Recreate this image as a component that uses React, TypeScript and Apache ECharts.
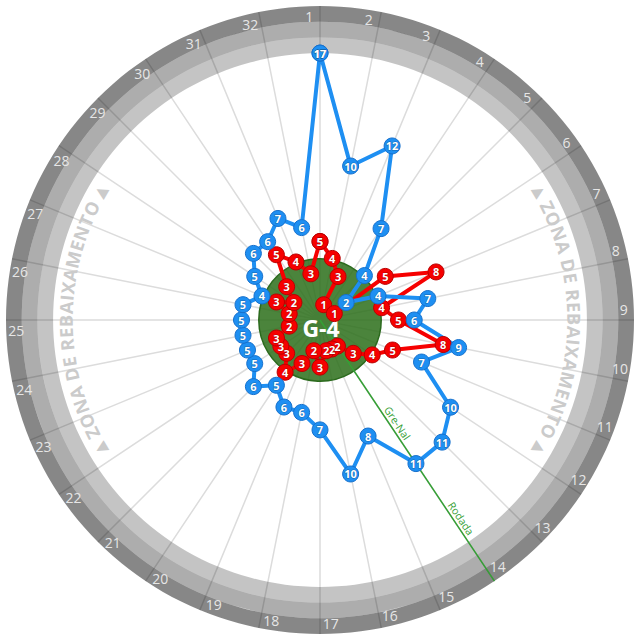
import React, { useEffect, useRef } from 'react';
import * as echarts from 'echarts';

// ---- data ----
const roundLabels = ['1', '2', '3', '4', '5', '6', '7', '8', '9', '10', '11', '12', '13', '14', '15', '16',
  '17', '18', '19', '20', '21', '22', '23', '24', '25', '26', '27', '28', '29', '30', '31', '32'];
const gremioPositions = [17, 10, 12, 7, 4, 2, 4, 7, 6, 9, 7, 10, 11, 11, 8, 10,
  7, 6, 6, 5, 6, 5, 5, 5, 5, 5, 4, 5, 6, 6, 7, 6];
const interPositions = [5, 4, 3, 1, 1, 5, 8, 4, 5, 8, 5, 4, 3, 2, 2, 2,
  3, 2, 3, 4, 3, 3, 3, 2, 2, 3, 2, 3, 5, 4, 3];
// round (angle) at which each red point is drawn
// (the two leader points are drawn spread apart; round 25 has no point)
const interRounds = [1, 2, 3, 2.2, 6.85, 6, 7, 8, 9, 10, 11, 12, 13, 14, 15, 16,
  17, 18, 19, 20, 21, 22, 23, 24, 26, 27, 28, 29, 30, 31, 32];
const zoneBands = [[17, 18], [18, 19], [19, 20]];
const g4Band = [[0, 3.9]];
const g4Text = 'G-4';
const greNalRound = 14;
const greNalLabels = ['Gre-Nal', 'Rodada'];
const zoneText = '▲ ZONA DE REBAIXAMENTO ▲';
const zoneCenters = [9, 25]; // rounds at the middle of each side text

// ---- styles ----
const BLUE = '#1e8ff2';
const RED = '#f60000';
const zoneColors = ['rgba(0,0,0,0.23)', 'rgba(0,0,0,0.32)', 'rgba(0,0,0,0.47)'];
const FONT = '"Open Sans", "DejaVu Sans", sans-serif';
const N = roundLabels.length;

let measureCtx: CanvasRenderingContext2D | null = null;
function textWidth(t: string, font: string) {
  if (!measureCtx) measureCtx = document.createElement('canvas').getContext('2d');
  measureCtx!.font = font;
  return measureCtx!.measureText(t).width;
}

function dist(a: number[], b: number[]) {
  return Math.hypot(a[0] - b[0], a[1] - b[1]);
}

export default function App() {
  const ref = useRef<HTMLDivElement>(null);
  useEffect(() => {
    if (!ref.current) return;
    const chart = echarts.init(ref.current, null, { renderer: 'svg' });

    const gremioData: number[][] = gremioPositions.map((v, i) => [v, i]);
    gremioData.push([gremioPositions[0], N]);
    const interData: number[][] = interPositions.map((v, i) => [v, interRounds[i] - 1]);
    interData.push([interPositions[0], N]);

    const markerLabel = {
      show: true,
      position: 'inside',
      formatter: (p: any) => String(p.value[0]),
      color: '#fff',
      fontWeight: 'bold',
      fontSize: 11,
      fontFamily: FONT,
      textBorderColor: 'rgba(0,0,0,0.3)',
      textBorderWidth: 1,
    };

    const option: any = {
      animation: false,
      polar: { center: ['50%', '50%'], radius: 314 },
      radiusAxis: {
        type: 'value', min: 0, max: 20,
        axisLine: { show: false }, axisTick: { show: false }, axisLabel: { show: false },
        splitLine: { show: false },
      },
      angleAxis: {
        type: 'value', min: 0, max: N, interval: 1, startAngle: 90, clockwise: true,
        axisLine: { show: false }, axisTick: { show: false }, axisLabel: { show: false },
        splitLine: { show: true, lineStyle: { color: '#dcdcdc', width: 1.5 } },
      },
      series: [
        {
          type: 'custom', coordinateSystem: 'polar', silent: true, z: 1,
          data: zoneBands,
          renderItem: (params: any, api: any) => {
            const c = api.coord([0, 0]);
            const r0 = dist(api.coord([api.value(0), 0]), c);
            const r = dist(api.coord([api.value(1), 0]), c);
            return { type: 'ring', shape: { cx: c[0], cy: c[1], r, r0 }, style: { fill: zoneColors[params.dataIndex] } };
          },
        },
        {
          type: 'custom', coordinateSystem: 'polar', silent: true, z: 1,
          data: g4Band,
          renderItem: (params: any, api: any) => {
            const c = api.coord([0, 0]);
            const r = dist(api.coord([api.value(1), 0]), c);
            return {
              type: 'circle', shape: { cx: c[0], cy: c[1], r },
              style: { fill: 'rgba(44,110,26,0.85)', stroke: '#2b6a1d', lineWidth: 1.5 },
            };
          },
        },
        {
          // round labels
          type: 'custom', coordinateSystem: 'polar', silent: true, z: 1,
          data: roundLabels.map((_, i) => [19.36, i - 0.18]),
          renderItem: (params: any, api: any) => {
            const p = api.coord([api.value(0), api.value(1)]);
            return {
              type: 'text', x: p[0], y: p[1],
              style: {
                text: roundLabels[params.dataIndex], fill: '#e6e6e6', font: '14px ' + FONT,
                align: 'center', verticalAlign: 'middle', textAlign: 'center', textVerticalAlign: 'middle',
              },
            };
          },
        },
        {
          // curved zone text
          type: 'custom', coordinateSystem: 'polar', silent: true, z: 1,
          data: zoneCenters.map((rd) => [16.2, rd - 1]),
          renderItem: (params: any, api: any) => {
            const rVal = api.value(0);
            const aVal = api.value(1);
            const c = api.coord([0, aVal]);
            const R = dist(api.coord([rVal, aVal]), c);
            const chars = Array.from(zoneText);
            const fonts = chars.map((ch) => (ch === '▲' ? '15px "DejaVu Sans"' : 'bold 18px ' + FONT));
            const widths = chars.map((ch, i) => textWidth(ch, fonts[i]) + 0.9);
            const total = widths.reduce((a, b) => a + b, 0);
            let s = -total / 2;
            const children = chars.map((ch, i) => {
              const mid = s + widths[i] / 2;
              s += widths[i];
              const aHere = aVal + (mid / R) / (2 * Math.PI) * N;
              const q = api.coord([rVal, aHere]);
              const theta = (aHere / N) * 2 * Math.PI;
              return {
                type: 'text', x: q[0], y: q[1], rotation: -theta,
                style: {
                  text: ch, fill: '#cbcbcb', font: fonts[i],
                  align: 'center', verticalAlign: 'middle', textAlign: 'center', textVerticalAlign: 'middle',
                },
              };
            });
            return { type: 'group', children };
          },
        },
        {
          // Gre-Nal plot line
          type: 'custom', coordinateSystem: 'polar', silent: true, z: 2,
          data: [[20, greNalRound - 1]],
          renderItem: (params: any, api: any) => {
            const a = api.value(1);
            const c = api.coord([0, a]);
            const e = api.coord([api.value(0), a]);
            const rot = -Math.atan2(e[1] - c[1], e[0] - c[0]);
            const positions = [8.2, 15.5];
            const texts = greNalLabels.map((t, i) => {
              const p = api.coord([positions[i], a]);
              return {
                type: 'text', x: p[0], y: p[1], rotation: rot,
                style: {
                  text: t, x: 0, y: -1.5, fill: '#35a035', font: '10.5px ' + FONT,
                  align: 'center', verticalAlign: 'bottom', textAlign: 'center', textVerticalAlign: 'bottom',
                },
              };
            });
            return {
              type: 'group',
              children: [
                { type: 'line', shape: { x1: c[0], y1: c[1], x2: e[0], y2: e[1] }, style: { stroke: '#35a035', lineWidth: 1.5 } },
                ...texts,
              ],
            };
          },
        },
        {
          // G-4 label
          type: 'custom', coordinateSystem: 'polar', silent: true, z: 2,
          data: [[0, 0]],
          renderItem: (params: any, api: any) => {
            const c = api.coord([0, 0]);
            return {
              type: 'text', x: c[0] + 1, y: c[1] + 8,
              style: {
                text: g4Text, fill: '#ffffff', font: 'bold 23px ' + FONT,
                align: 'center', verticalAlign: 'middle', textAlign: 'center', textVerticalAlign: 'middle',
              },
            };
          },
        },
        {
          name: 'Internacional', type: 'line', coordinateSystem: 'polar', z: 3,
          data: interData, symbol: 'circle', symbolSize: 16,
          lineStyle: { color: RED, width: 4 },
          itemStyle: { color: RED, borderColor: '#b80000', borderWidth: 1 },
          label: markerLabel,
          silent: true,
        },
        {
          name: 'Grêmio', type: 'line', coordinateSystem: 'polar', z: 3,
          data: gremioData, symbol: 'circle', symbolSize: 16,
          lineStyle: { color: BLUE, width: 4 },
          itemStyle: { color: BLUE, borderColor: '#1670cc', borderWidth: 1 },
          label: markerLabel,
          silent: true,
        },
      ],
    };
    chart.setOption(option);
    return () => chart.dispose();
  }, []);
  return <div ref={ref} style={{ position: 'absolute', left: 0, top: 0, width: 640, height: 640 }} />;
}
